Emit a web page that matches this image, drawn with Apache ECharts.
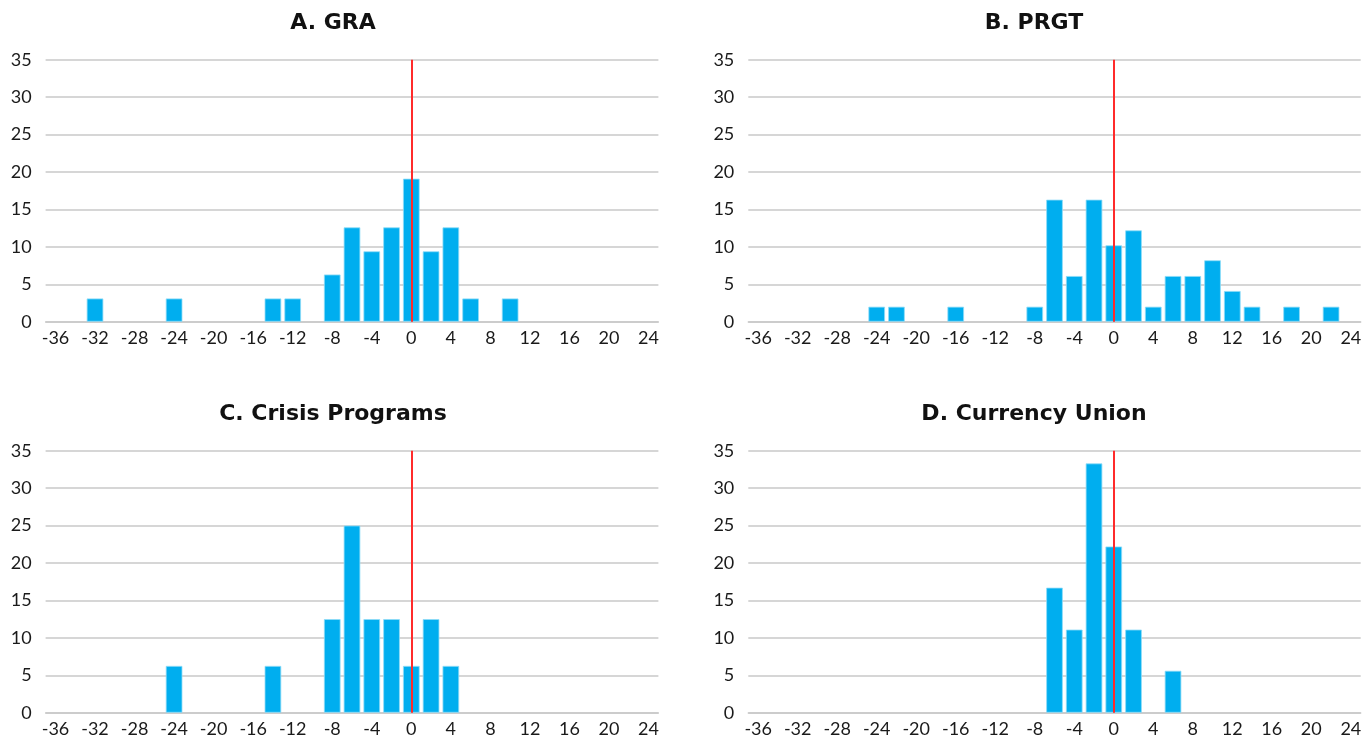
<!DOCTYPE html>
<html>
<head>
<meta charset="utf-8">
<title>Distribution by program type</title>
<script src="https://cdn.jsdelivr.net/npm/echarts@6/dist/echarts.min.js"></script>
<style>
  html, body { margin: 0; padding: 0; background: #ffffff; }
  #chart { width: 1369px; height: 738px; }
</style>
</head>
<body>
<div id="chart"></div>
<script>
// Bin centres (percent), shared by all four panels
const bins = [];
for (let b = -36; b <= 24; b += 2) bins.push(String(b));

// Share of cases (percent) in each bin, keyed by bin centre
const graBins    = ['-32', '-24', '-14', '-12', '-8', '-6', '-4', '-2', '0', '2', '4', '6', '10'];
const graShares  = [3.1, 3.1, 3.1, 3.1, 6.3, 12.6, 9.4, 12.6, 19.1, 9.4, 12.6, 3.1, 3.1];

const prgtBins   = ['-24', '-22', '-16', '-8', '-6', '-4', '-2', '0', '2', '4', '6', '8', '10', '12', '14', '18', '22'];
const prgtShares = [2.0, 2.0, 2.0, 2.0, 16.3, 6.1, 16.3, 10.2, 12.2, 2.0, 6.1, 6.1, 8.2, 4.1, 2.0, 2.0, 2.0];

const crisisBins   = ['-24', '-14', '-8', '-6', '-4', '-2', '0', '2', '4'];
const crisisShares = [6.25, 6.25, 12.5, 25, 12.5, 12.5, 6.25, 12.5, 6.25];

const cuBins   = ['-6', '-4', '-2', '0', '2', '6'];
const cuShares = [16.7, 11.1, 33.3, 22.2, 11.1, 5.6];

const panelTitles = ['A. GRA', 'B. PRGT', 'C. Crisis Programs', 'D. Currency Union'];
const yTicks = { min: 0, max: 35, step: 5 };
const zeroLine = '0';

// Spread a panel's values over the full bin list; empty bins get no bar
function fullSeries(keys, vals) {
  const m = {};
  keys.forEach((k, i) => { m[k] = vals[i]; });
  return bins.map(b => (b in m ? m[b] : '-'));
}

const panels = [
  fullSeries(graBins, graShares),
  fullSeries(prgtBins, prgtShares),
  fullSeries(crisisBins, crisisShares),
  fullSeries(cuBins, cuShares)
];

// Layout of the 2x2 panel grid (pixels)
const gridBoxes = [
  { left: 45.6,  top: 59.7,  width: 612.8, height: 262 },
  { left: 748.3, top: 59.7,  width: 612.4, height: 262 },
  { left: 45.6,  top: 450.7, width: 612.8, height: 262 },
  { left: 748.3, top: 450.7, width: 612.4, height: 262 }
];
const titleCentres = [
  { x: 333, y: 12 }, { x: 1034, y: 12 },
  { x: 333, y: 403 }, { x: 1034, y: 403 }
];

const FONT = 'Lato';
const TITLE_FONT = 'DejaVu Sans';
const gridColor = '#c9c9c9';
const barColor = '#00aeef';

const option = {
  animation: false,
  backgroundColor: '#ffffff',
  title: panelTitles.map((t, i) => ({
    text: t,
    left: titleCentres[i].x,
    top: titleCentres[i].y,
    textAlign: 'center',
    padding: 0,
    textStyle: { fontFamily: TITLE_FONT, fontWeight: 'bold', fontSize: 22, color: '#111111' }
  })),
  grid: gridBoxes.map(g => Object.assign({ containLabel: false }, g)),
  xAxis: gridBoxes.map((g, i) => ({
    type: 'category',
    gridIndex: i,
    data: bins,
    axisLine: { show: true, lineStyle: { color: gridColor, width: 1.5 } },
    axisTick: { show: false },
    axisLabel: {
      interval: 1,
      margin: 7,
      fontFamily: FONT,
      fontSize: 18,
      color: '#1a1a1a'
    },
    splitLine: { show: false }
  })),
  yAxis: gridBoxes.map((g, i) => ({
    type: 'value',
    gridIndex: i,
    min: yTicks.min,
    max: yTicks.max,
    interval: yTicks.step,
    axisLine: { show: false },
    axisTick: { show: false },
    axisLabel: {
      margin: 14,
      fontFamily: FONT,
      fontSize: 18,
      color: '#1a1a1a'
    },
    splitLine: { show: true, lineStyle: { color: gridColor, width: 1.5 } }
  })),
  series: panels.map((vals, i) => ({
    type: 'bar',
    xAxisIndex: i,
    yAxisIndex: i,
    data: vals,
    barCategoryGap: '16%',
    itemStyle: { color: barColor, borderColor: '#8fdcf8', borderWidth: 0.8 },
    emphasis: { disabled: true },
    markLine: {
      silent: true,
      symbol: ['none', 'none'],
      label: { show: false },
      lineStyle: { color: '#ff2b2b', width: 2, type: 'solid' },
      data: [{ xAxis: zeroLine }]
    }
  }))
};

const chart = echarts.init(document.getElementById('chart'), null, { renderer: 'canvas' });
chart.setOption(option);
</script>
</body>
</html>
